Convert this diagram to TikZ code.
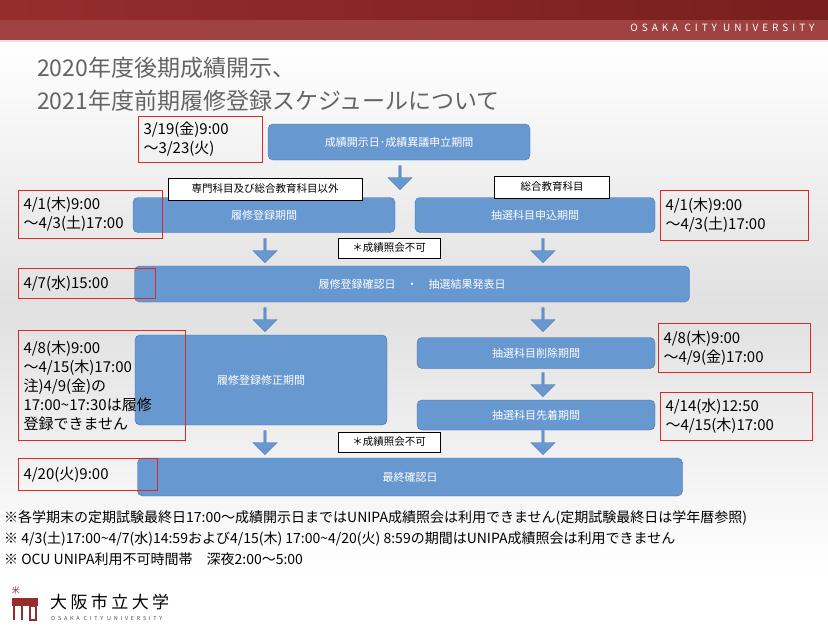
\documentclass[tikz,border=0pt]{standalone}
\usepackage{fontspec}
\setmainfont{Noto Sans CJK JP}
\usetikzlibrary{shapes.arrows}
\definecolor{boxblue}{RGB}{104,152,208}
\definecolor{boxedge}{RGB}{70,110,170}
\definecolor{hdr}{RGB}{150,45,45}
\definecolor{hdrdark}{RGB}{120,30,30}
\definecolor{redline}{RGB}{220,40,40}
\definecolor{titlegray}{RGB}{100,100,100}
\newcommand{\tl}{\string~}
\tikzset{
 stage/.style={draw=boxedge,fill=boxblue,rounded corners=5pt,text=white,font=\fontsize{11}{13}\selectfont,inner sep=0pt},
 datebox/.style={draw=redline,line width=1pt,align=left,anchor=north west,inner xsep=5pt,inner ysep=2pt,font=\fontsize{15}{19}\selectfont,text=black},
 tag/.style={draw=black,fill=white,inner sep=0pt,font=\fontsize{10.5}{12}\selectfont},
 barrow/.style={single arrow,draw=boxedge,fill=boxblue,shape border rotate=270,minimum width=24pt,single arrow head extend=2pt,minimum height=24pt,inner sep=0pt},
 note/.style={anchor=west,font=\fontsize{14}{15}\selectfont,inner sep=0pt}
}
\begin{document}
\begin{tikzpicture}[x=1pt,y=-1pt]
\useasboundingbox (0,0) rectangle (828,629);
\fill[white] (0,0) rectangle (828,629);
\shade[top color=white,bottom color=white,middle color=black!12] (0,42) rectangle (828,575);
\shade[left color=hdr,right color=hdrdark] (0,0) rectangle (828,40);
\fill[hdr!90!white] (0,20) rectangle (828,40);
\draw[white!80!gray,line width=1.5pt] (0,41) -- (828,41);
\node[anchor=east,text=white,font=\fontsize{10}{12}\selectfont\addfontfeature{LetterSpace=40}] (uni) at (818,28) {OSAKA CITY UNIVERSITY};
\node[anchor=west,text=titlegray,font=\fontsize{23}{27}\selectfont,inner sep=0pt] (t1) at (37,68) {2020年度後期成績開示、};
\node[anchor=west,text=titlegray,font=\fontsize{23}{27}\selectfont,inner sep=0pt] (t2) at (37,101) {2021年度前期履修登録スケジュールについて};
% stages
\node[stage,minimum width=262pt,minimum height=36pt] (s1) at (399,142) {成績開示日･成績異議申立期間};
\node[stage,minimum width=262pt,minimum height=35pt] (s2) at (264,215) {履修登録期間};
\node[stage,minimum width=240pt,minimum height=35pt] (s3) at (535,215) {抽選科目申込期間};
\node[stage,minimum width=555pt,minimum height=36pt] (s4) at (412,284) {履修登録確認日　・　抽選結果発表日};
\node[stage,minimum width=252pt,minimum height=90pt] (s5) at (261,380) {履修登録修正期間};
\node[stage,minimum width=238pt,minimum height=31pt] (s6) at (536,353) {抽選科目削除期間};
\node[stage,minimum width=238pt,minimum height=30pt] (s7) at (536,415) {抽選科目先着期間};
\node[stage,minimum width=545pt,minimum height=38pt] (s8) at (410,477) {最終確認日};
% arrows
\node[barrow] (a1) at (400,177) {};
\node[barrow] (a2) at (265,250) {};
\node[barrow] (a3) at (543,250) {};
\node[barrow] (a4) at (265,319) {};
\node[barrow] (a5) at (543,319) {};
\node[barrow] (a6) at (543,384) {};
\node[barrow] (a7) at (265,442) {};
\node[barrow] (a8) at (543,442) {};
% tags
\node[tag,minimum width=194pt,minimum height=22pt] (g1) at (265,189) {専門科目及び総合教育科目以外};
\node[tag,minimum width=115pt,minimum height=22pt] (g2) at (552,187) {総合教育科目};
\node[tag,minimum width=102pt,minimum height=20pt] (g3) at (389,248) {＊成績照会不可};
\node[tag,minimum width=102pt,minimum height=20pt] (g4) at (389,442) {＊成績照会不可};
% date boxes
\node[datebox,text width=114pt,minimum height=46pt] (d1) at (138,116) {3/19(金)9:00\\～3/23(火)};
\node[datebox,text width=134pt,minimum height=48pt] (d2) at (18,190) {4/1(木)9:00\\～4/3(土)17:00};
\node[datebox,text width=138pt,minimum height=50pt] (d3) at (660,190) {4/1(木)9:00\\～4/3(土)17:00};
\node[datebox,text width=127pt,minimum height=30pt] (d4) at (18,268) {4/7(水)15:00};
\node[datebox,text width=157pt,minimum height=110pt] (d5) at (18,330) {4/8(木)9:00\\～4/15(木)17:00\\注)4/9(金)の\\17:00\tl 17:30は履修\\登録できません};
\node[datebox,text width=142pt,minimum height=49pt] (d6) at (658,323) {4/8(木)9:00\\～4/9(金)17:00};
\node[datebox,text width=142pt,minimum height=48pt] (d7) at (660,392) {4/14(水)12:50\\～4/15(木)17:00};
\node[datebox,text width=129pt,minimum height=32pt] (d8) at (18,458) {4/20(火)9:00};
% notes
\node[note] (n1) at (4,518) {※各学期末の定期試験最終日17:00～成績開示日まではUNIPA成績照会は利用できません(定期試験最終日は学年暦参照)};
\node[note] (n2) at (4,539) {※ 4/3(土)17:00\tl 4/7(水)14:59および4/15(木) 17:00\tl 4/20(火) 8:59の期間はUNIPA成績照会は利用できません};
\node[note] (n3) at (4,559) {※ OCU UNIPA利用不可時間帯　深夜2:00～5:00};
% logo
\fill[hdr] (12,598) rectangle (38,606);
\draw[hdr,line width=1.5pt] (14,606) -- (14,620) (22,606) -- (22,620) (30,606) rectangle (36,620);
\node[text=hdr,font=\fontsize{8}{8}\selectfont,inner sep=0pt] (lg) at (16,590) {米};
\node[anchor=west,font=\fontsize{17}{19}\selectfont\addfontfeature{LetterSpace=20},inner sep=0pt] (ln) at (50,602) {大阪市立大学};
\node[anchor=west,font=\fontsize{5.5}{6}\selectfont\addfontfeature{LetterSpace=50},inner sep=0pt,text=black!70] (le) at (51,618) {OSAKA CITY UNIVERSITY};
\end{tikzpicture}
\end{document}
